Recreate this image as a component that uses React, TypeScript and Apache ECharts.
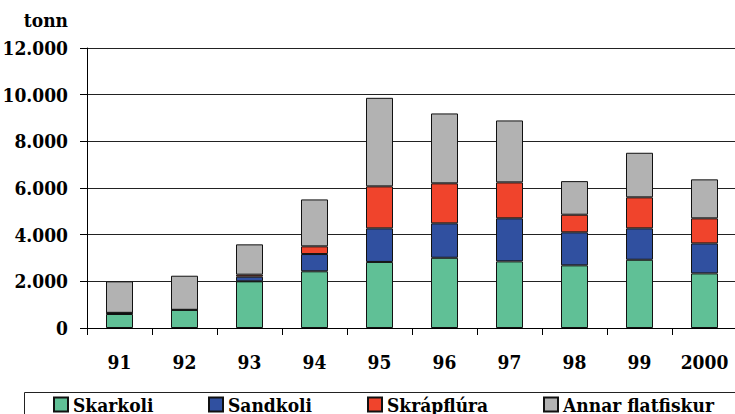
import React, { useEffect, useRef } from "react";
import * as echarts from "echarts";

const categories = ["91", "92", "93", "94", "95", "96", "97", "98", "99", "2000"];
const skarkoli = [600, 780, 2000, 2430, 2830, 3010, 2855, 2685, 2925, 2340];
const sandkoli = [50, 0, 200, 740, 1440, 1475, 1845, 1415, 1345, 1285];
const skrapflura = [0, 0, 85, 330, 1800, 1715, 1540, 755, 1330, 1075];
const annar = [1350, 1460, 1300, 2010, 3795, 2995, 2655, 1440, 1910, 1670];
const seriesNames = ["Skarkoli", "Sandkoli", "Skrápflúra", "Annar flatfiskur"];
const seriesColors = ["#60C096", "#3050A0", "#F0442C", "#B2B2B2"];
const legendLefts = [53, 208, 367, 543];

const FONT = "DejaVu Serif Condensed, DejaVu Serif";

export default function App() {
  const ref = useRef<HTMLDivElement>(null);
  useEffect(() => {
    if (!ref.current) return;
    const chart = echarts.init(ref.current, undefined, { renderer: "svg" });
    const data = [skarkoli, sandkoli, skrapflura, annar];
    const textStyle = { fontFamily: FONT, fontWeight: "bold" as const, fontSize: 19, color: "#000" };
    chart.setOption({
      animation: false,
      backgroundColor: "#fff",
      grid: { left: 87, top: 48, right: -2, bottom: 86, containLabel: false, outerBoundsMode: "none" },
      xAxis: {
        type: "category",
        data: categories,
        axisLine: { lineStyle: { color: "#000", width: 1 } },
        axisTick: { show: true, alignWithLabel: false, length: 7, lineStyle: { color: "#000" } },
        axisLabel: { ...textStyle, margin: 24 },
      },
      yAxis: {
        type: "value",
        min: 0,
        max: 12000,
        interval: 2000,
        axisLine: { show: true, lineStyle: { color: "#000", width: 1 } },
        axisTick: { show: true, length: 7, lineStyle: { color: "#000" } },
        axisLabel: {
          ...textStyle,
          margin: 19,
          formatter: (v: number) => (v >= 1000 ? `${Math.floor(v / 1000)}.${String(v % 1000).padStart(3, "0")}` : `${v}`),
        },
        splitLine: { lineStyle: { color: "#222", width: 1 } },
      },
      legend: legendLefts.map((l, i) => ({
        data: [{ name: seriesNames[i], icon: "rect" }],
        left: l,
        top: 395,
        padding: 0,
        itemWidth: 14,
        itemHeight: 14,
        itemGap: 0,
        textStyle: { ...textStyle, fontSize: 19 },
      })),
      graphic: [
        {
          type: "text",
          right: 735 - 68,
          top: 10,
          style: { text: "tonn", fontFamily: FONT, fontWeight: "bold", fontSize: 19, fill: "#000" },
        },
        {
          type: "rect",
          left: 22,
          top: 390,
          shape: { width: 800, height: 60 },
          style: { fill: "none", stroke: "#222", lineWidth: 1 },
          z: -1,
        },
      ],
      series: data.map((d, i) => ({
        name: seriesNames[i],
        type: "bar",
        stack: "total",
        barWidth: 27,
        data: d,
        itemStyle: { color: seriesColors[i], borderColor: "#111", borderWidth: 1 },
      })),
    });
    return () => chart.dispose();
  }, []);
  return <div ref={ref} style={{ position: "fixed", left: 0, top: 0, width: 735, height: 414 }} />;
}
